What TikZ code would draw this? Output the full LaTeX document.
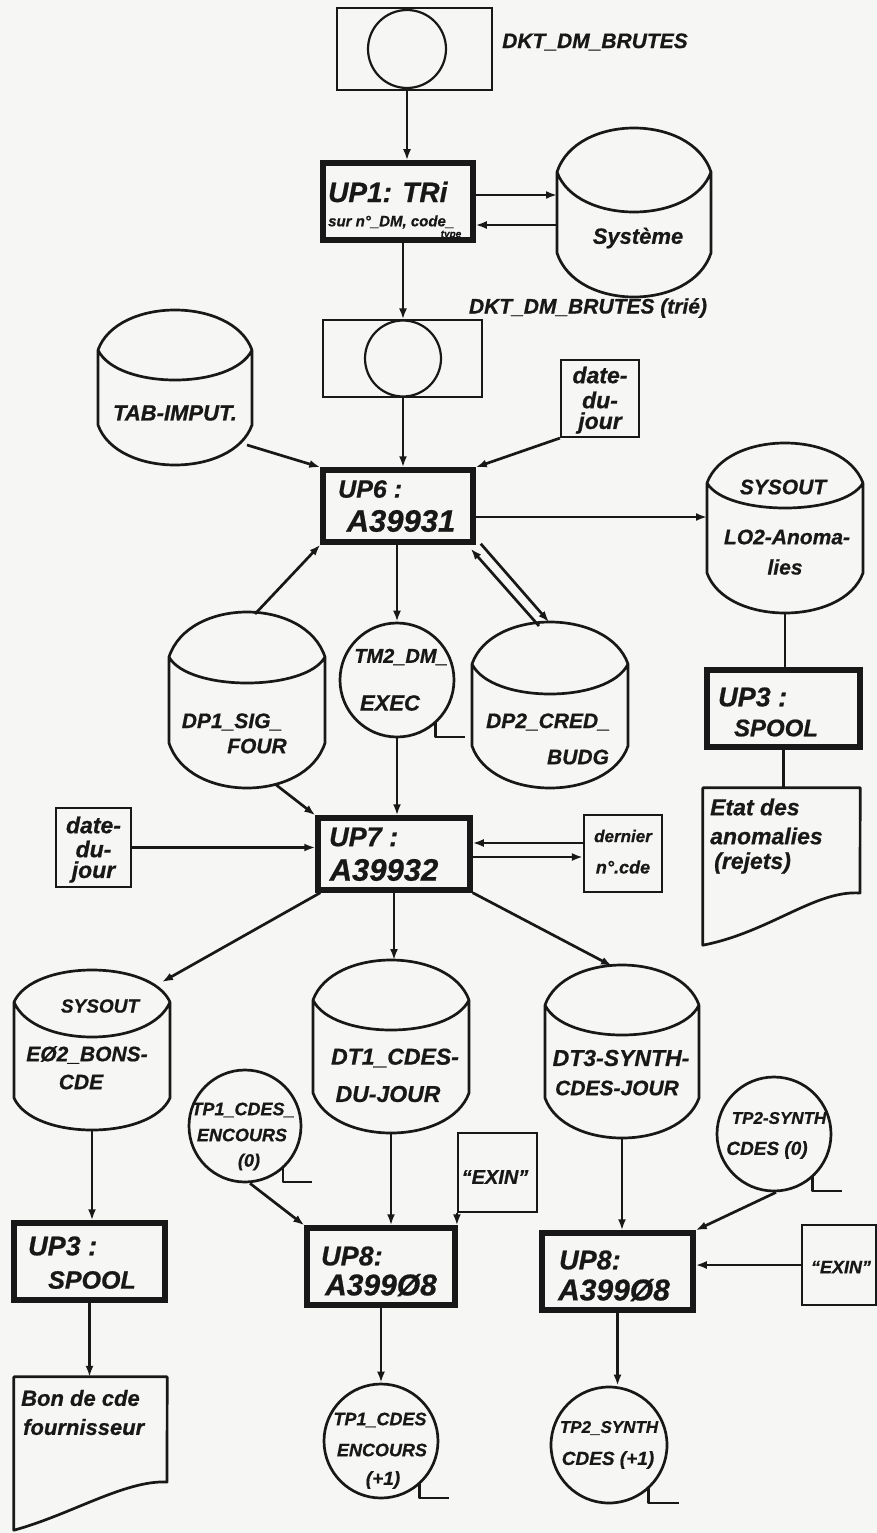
\documentclass[tikz,border=0pt]{standalone}
\usepackage{fontspec}
\setmainfont{Liberation Sans}
\usetikzlibrary{arrows.meta,calc}
\definecolor{ink}{RGB}{24,24,24}
\definecolor{paper}{RGB}{246,246,244}

\newcommand\mycyl[7]{% name, cx, ytop, ybot, half width, cap height, cap dip
  \pgfmathsetmacro\cylW{2*#5}%
  \pgfmathsetmacro\cylH{#4-#3}%
  \node[inner sep=0pt, outer sep=0pt, minimum width=\cylW pt, minimum height=\cylH pt] (#1) at ({#2},{(#3+#4)/2}) {};
  \draw[shapeline]
    ({#2-#5},{#3+#6}) .. controls ({#2-0.75*#5},{#3-#6/3}) and ({#2+0.75*#5},{#3-#6/3}) .. ({#2+#5},{#3+#6})
    .. controls ({#2+0.75*#5},{#3+#6+4*#7/3}) and ({#2-0.75*#5},{#3+#6+4*#7/3}) .. ({#2-#5},{#3+#6})
    -- ({#2-#5},{#4-#6})
    .. controls ({#2-0.75*#5},{#4+#6/3}) and ({#2+0.75*#5},{#4+#6/3}) .. ({#2+#5},{#4-#6})
    -- ({#2+#5},{#3+#6});
}
\newcommand\mytape[4]{% name, cx, cy, r
  \pgfmathsetmacro\tapeD{2*#4}%
  \node[shapeline, draw=ink, circle, inner sep=0pt, minimum size=\tapeD pt] (#1) at (#2,#3) {};
  \draw[shapeline] ({#2+0.68*#4},{#3+0.73*#4}) -- ({#2+0.68*#4},{#3+#4}) -- ({#2+1.2*#4},{#3+#4});
}

\begin{document}
\begin{tikzpicture}[x=1pt,y=-1pt,
  shapeline/.style={draw=ink, line width=2.7pt, line join=round},
  thinbox/.style={draw=ink, line width=2.2pt, inner sep=0pt},
  proc/.style={draw=ink, line width=5.5pt, inner sep=0pt},
  conn/.style={draw=ink, line width=2.7pt, -{Latex[length=11pt,width=8pt]}},
  pline/.style={draw=ink, line width=2.7pt},
  txt/.style={text=ink, inner sep=0pt},
  fs/.style={font=\bfseries\itshape\fontsize{#1}{#1}\selectfont\addfontfeatures{FakeBold=0.7}}]

\fill[paper] (0,0) rectangle (877,1533);
\useasboundingbox (0,0) rectangle (877,1533);

% ---------- top input tape
\node[thinbox, minimum width=155pt, minimum height=82pt] (t1) at (414.5,49) {};
\node[thinbox, circle, minimum size=78pt] (t1c) at (407,49) {};
\node[txt, fs=21] (lbl1) at (595,42) {DKT\_DM\_BRUTES};

% ---------- UP1
\node[proc, minimum width=150pt, minimum height=77pt] (up1) at (398,201.5) {};
\node[txt, fs=28, anchor=west] (up1a) at (328,192) {UP1: TRi};
\node[txt, fs=15, anchor=west] (up1b) at (328,222) {sur n°\_DM, code\_};
\node[txt, fs=10] (up1c) at (451,235) {type};

% ---------- Systeme
\mycyl{sys}{634}{128}{297}{77}{44}{40}
\node[txt, fs=22] (syst) at (638,238) {Système};

% ---------- sorted tape
\node[thinbox, minimum width=159pt, minimum height=77pt] (t2) at (402.5,358.5) {};
\node[thinbox, circle, minimum size=76pt] (t2c) at (403,358.5) {};
\node[txt, fs=21] (lbl2) at (588,308) {DKT\_DM\_BRUTES (trié)};

% ---------- TAB-IMPUT
\mycyl{tab}{175}{310}{465}{77}{40}{30}
\node[txt, fs=22] (tabt) at (175,413) {TAB-IMPUT.};

% ---------- date du jour (top)
\node[thinbox, minimum width=78pt, minimum height=77pt] (d1) at (600,398.5) {};
\node[txt, fs=23] (d1a) at (600,375) {date-};
\node[txt, fs=23] (d1b) at (600,400) {du-};
\node[txt, fs=23] (d1c) at (600,423) {jour};

% ---------- UP6
\node[proc, minimum width=150pt, minimum height=72pt] (up6) at (398,506) {};
\node[txt, fs=25, anchor=west] (up6a) at (338,489) {UP6 :};
\node[txt, fs=31] (up6b) at (401,521) {A39931};

% ---------- LO2 anomalies
\mycyl{lo2}{785}{443}{613}{78}{40}{25}
\node[txt, fs=21] (lo2a) at (783,487) {SYSOUT};
\node[txt, fs=21] (lo2b) at (787,537) {LO2-Anoma-};
\node[txt, fs=21] (lo2c) at (785,567) {lies};

% ---------- UP3 (right)
\node[proc, minimum width=153pt, minimum height=77pt] (up3r) at (783.5,708.5) {};
\node[txt, fs=27, anchor=west] (up3ra) at (718,697) {UP3 :};
\node[txt, fs=24] (up3rb) at (776,728) {SPOOL};

% ---------- Etat des anomalies (document)
\node[inner sep=0pt, minimum width=157pt, minimum height=157pt] (etat) at (781.5,866.5) {};
\draw[shapeline] (etat.north west) -- (etat.north east) -- (860,893)
  .. controls (815,890) and (770,932) .. (etat.south west) -- cycle;
\node[txt, fs=23, anchor=west] (etata) at (710,807) {Etat des};
\node[txt, fs=23, anchor=west] (etatb) at (710,836) {anomalies};
\node[txt, fs=23, anchor=west] (etatc) at (714,863) {(rejets)};

% ---------- DP1, TM2, DP2
\mycyl{dp1}{247}{612}{788}{78}{45}{26}
\node[txt, fs=21] (dp1a) at (232,722) {DP1\_SIG\_};
\node[txt, fs=21] (dp1b) at (257,746) {FOUR};

\mytape{tm2}{397}{680}{57}
\node[txt, fs=20] (tm2a) at (401,657) {TM2\_DM\_};
\node[txt, fs=22] (tm2b) at (390,703) {EXEC};

\mycyl{dp2}{550}{622}{788}{78}{42}{30}
\node[txt, fs=21] (dp2a) at (548,722) {DP2\_CRED\_};
\node[txt, fs=21] (dp2b) at (578,757) {BUDG};

% ---------- UP7
\node[proc, minimum width=152pt, minimum height=72pt] (up7) at (394,854) {};
\node[txt, fs=27, anchor=west] (up7a) at (329,837) {UP7 :};
\node[txt, fs=31] (up7b) at (384,870) {A39932};

\node[thinbox, minimum width=75pt, minimum height=79pt] (d2) at (93.5,847.5) {};
\node[txt, fs=23] (d2a) at (93.5,825) {date-};
\node[txt, fs=23] (d2b) at (93.5,849) {du-};
\node[txt, fs=23] (d2c) at (93.5,872) {jour};

\node[thinbox, minimum width=78pt, minimum height=77pt] (dern) at (623,853.5) {};
\node[txt, fs=17] (derna) at (623,836) {dernier};
\node[txt, fs=18] (dernb) at (623,867) {n°.cde};

% ---------- bottom cylinders
\mycyl{e02}{92}{970}{1130}{78}{32}{35}
\node[txt, fs=19] (e02a) at (100,1006) {SYSOUT};
\node[txt, fs=21] (e02b) at (87,1055) {EØ2\_BONS-};
\node[txt, fs=21] (e02c) at (81,1082) {CDE};

\mycyl{dt1}{391}{960}{1133}{78}{40}{30}
\node[txt, fs=23] (dt1a) at (395,1058) {DT1\_CDES-};
\node[txt, fs=23] (dt1b) at (388,1094) {DU-JOUR};

\mycyl{dt3}{622}{965}{1138}{77}{40}{30}
\node[txt, fs=23] (dt3a) at (621,1058) {DT3-SYNTH-};
\node[txt, fs=21] (dt3b) at (617,1088) {CDES-JOUR};

% ---------- tapes around UP8
\mytape{tp1}{245}{1126}{56}
\node[txt, fs=18] (tp1a) at (243,1110) {TP1\_CDES\_};
\node[txt, fs=18] (tp1b) at (242,1135) {ENCOURS};
\node[txt, fs=18] (tp1c) at (249,1162) {(0)};

\node[thinbox, minimum width=79pt, minimum height=79pt] (exm) at (497.5,1172.5) {};
\node[txt, fs=20] (exmt) at (495,1177) {“EXIN”};

\mytape{tp2}{774}{1134}{57}
\node[txt, fs=17] (tp2a) at (779,1118) {TP2-SYNTH};
\node[txt, fs=19] (tp2b) at (767,1150) {CDES (0)};

% ---------- UP3 (left), UP8, UP8
\node[proc, minimum width=151pt, minimum height=77pt] (up3l) at (89.5,1261.5) {};
\node[txt, fs=27, anchor=west] (up3la) at (28,1246) {UP3 :};
\node[txt, fs=25] (up3lb) at (92,1280) {SPOOL};

\node[proc, minimum width=148pt, minimum height=77pt] (up8m) at (381,1266.5) {};
\node[txt, fs=27, anchor=west] (up8ma) at (321,1256) {UP8:};
\node[txt, fs=30] (up8mb) at (381,1285) {A399Ø8};

\node[proc, minimum width=151pt, minimum height=77pt] (up8r) at (617.5,1271.5) {};
\node[txt, fs=27, anchor=west] (up8ra) at (559,1260) {UP8:};
\node[txt, fs=30] (up8rb) at (614,1290) {A399Ø8};

\node[thinbox, minimum width=74pt, minimum height=80pt] (exr) at (839,1265) {};
\node[txt, fs=18] (exrt) at (841,1267) {“EXIN”};

% ---------- outputs
\node[inner sep=0pt, minimum width=153pt, minimum height=153pt] (bon) at (90.5,1453.5) {};
\draw[shapeline] (bon.north west) -- (bon.north east) -- (167,1482)
  .. controls (125,1480) and (70,1515) .. (bon.south west) -- cycle;
\node[txt, fs=22, anchor=west] (bona) at (21,1398) {Bon de cde};
\node[txt, fs=22, anchor=west] (bonb) at (23,1427) {fournisseur};

\mytape{tp1n}{381}{1441}{57}
\node[txt, fs=18] (tp1na) at (380,1420) {TP1\_CDES};
\node[txt, fs=18] (tp1nb) at (382,1450) {ENCOURS};
\node[txt, fs=19] (tp1nc) at (383,1480) {(+1)};

\mytape{tp2n}{609}{1445}{58}
\node[txt, fs=17] (tp2na) at (609,1428) {TP2\_SYNTH};
\node[txt, fs=19] (tp2nb) at (608,1460) {CDES (+1)};

% ---------- connectors
\draw[conn] (t1c.south) -- (t1c.south |- up1.north);
\draw[conn] ($(up1.east)+(0,-6.5)$) -- ($(sys.west)+(0,-17.5)$);
\draw[conn] ($(sys.west)+(0,12.5)$) -- ($(up1.east)+(0,23.5)$);
\draw[conn] (t2c.north |- up1.south) -- (t2c.north);
\draw[conn] (t2c.south) -- (t2c.south |- up6.north);
\draw[conn] ($(tab.south east)+(-5,-20)$) -- (up6.north west);
\draw[conn] (d1.south west) -- (up6.north east);
\draw[conn] ($(up6.east)+(0,11)$) -- ($(lo2.west)+(0,-11)$);
\draw[pline] (lo2.south) -- (lo2.south |- up3r.north);
\draw[pline] (up3r.south) -- (up3r.south |- etat.north);

\draw[conn] ($(dp1.north)+(8,2)$) -- (up6.south west);
\draw[conn] (tm2.north |- up6.south) -- (tm2.north);
\draw[conn] ($(dp2.north)+(-11,4)$) -- ($(up6.south east)+(-5,4)$);
\draw[conn] ($(up6.south east)+(5,-1)$) -- ($(dp2.north)+(-1,0)$);

\draw[conn] (tm2.south) -- (tm2.south |- up7.north);
\draw[conn] ($(dp1.south)+(28,-4)$) -- (up7.north west);
\draw[conn] (d2.east) -- (d2.east -| up7.west);
\draw[conn] ($(dern.west)+(0,-10.5)$) -- ($(up7.east)+(0,-11)$);
\draw[conn] ($(up7.east)+(0,3)$) -- ($(dern.west)+(0,3.5)$);

\draw[conn] ($(up7.south west)+(5,0)$) -- ($(e02.north east)+(-8,12)$);
\draw[conn] (up7.south) -- (up7.south |- dt1.north);
\draw[conn] (up7.south east) -- ($(dt3.north)+(-10,1)$);

\draw[conn] (e02.south) -- (e02.south |- up3l.north);
\draw[conn] (up3l.south) -- (up3l.south |- bon.north);
\draw[conn] ($(tp1.south)+(5,0)$) -- (up8m.north west);
\draw[conn] (dt1.south) -- (dt1.south |- up8m.north);
\draw[conn] (exm.south west) -- (exm.south west |- up8m.north);
\draw[conn] (up8m.south) -- (up8m.south |- tp1n.north);
\draw[conn] (dt3.south) -- (dt3.south |- up8r.north);
\draw[conn] ($(tp2.south)+(2,0)$) -- (up8r.north east);
\draw[conn] (exr.west) -- (exr.west -| up8r.east);
\draw[conn] (up8r.south) -- (up8r.south |- tp2n.north);
\end{tikzpicture}
\end{document}
